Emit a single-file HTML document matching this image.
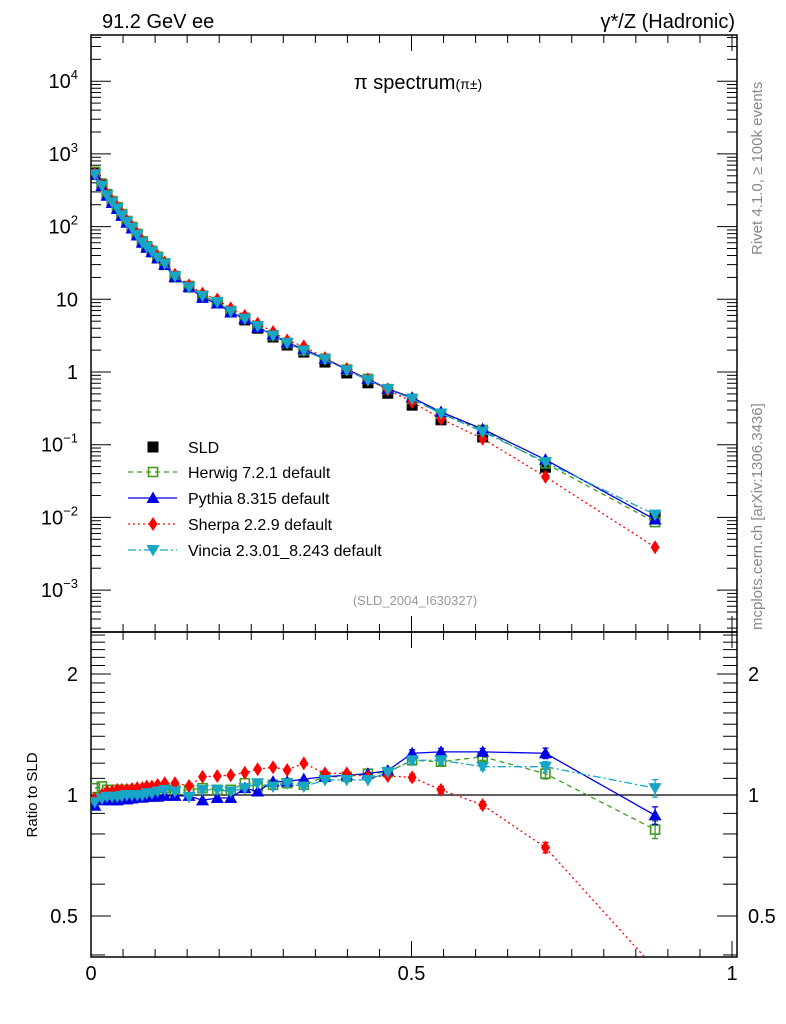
<!DOCTYPE html>
<html><head><meta charset="utf-8"><style>
body{margin:0;background:#fff;}
svg{display:block;font-family:"Liberation Sans",sans-serif;}
</style></head><body>
<svg id="chart" width="786" height="1024" viewBox="0 0 786 1024" xmlns="http://www.w3.org/2000/svg">
<g id="static">
<text x="102" y="28" font-size="20">91.2 GeV ee</text>
<text x="735" y="28" font-size="20" text-anchor="end">γ*/Z (Hadronic)</text>
<text x="418" y="89" font-size="20" text-anchor="middle">π spectrum<tspan font-size="14">(π±)</tspan></text>
<text font-size="15" fill="#888" transform="translate(762,255) rotate(-90)">Rivet 4.1.0, ≥ 100k events</text>
<text font-size="15" fill="#888" transform="translate(762,630) rotate(-90)">mcplots.cern.ch [arXiv:1306.3436]</text>
<text x="415" y="605" font-size="13" fill="#999" text-anchor="middle">(SLD_2004_I630327)</text>
<text font-size="15" text-anchor="middle" transform="translate(37,795) rotate(-90)">Ratio to SLD</text>
</g>
<g id="dyn"></g>
</svg>
<script>
const xVals=[0.006,0.017,0.025,0.033,0.041,0.048,0.056,0.064,0.072,0.080,0.087,0.095,0.104,0.115,0.131,0.153,0.174,0.197,0.218,0.240,0.260,0.284,0.306,0.332,0.365,0.399,0.432,0.463,0.501,0.546,0.611,0.709,0.880];
const sldVals=[546,373,272,218,180,144,116,96,77,61,52,45,37,30,20.3,14.8,10.8,8.9,6.7,5.2,4.0,3.03,2.35,1.88,1.37,0.97,0.71,0.51,0.35,0.22,0.128,0.049,0.0105];
const herwigRatio=[1.04,1.05,1.03,1.03,1.03,1.03,1.03,1.03,1.03,1.03,1.03,1.03,1.04,1.04,1.03,1.03,1.04,1.03,1.03,1.07,1.05,1.06,1.07,1.06,1.11,1.11,1.13,1.14,1.22,1.21,1.245,1.13,0.82];
const pythiaRatio=[0.94,0.97,0.975,0.97,0.97,0.975,0.975,0.98,0.985,0.985,0.99,0.99,0.99,0.995,0.995,0.995,0.97,0.983,0.983,1.04,1.02,1.08,1.08,1.095,1.11,1.12,1.13,1.15,1.27,1.28,1.28,1.27,0.89];
const sherpaRatio=[0.98,1.0,1.02,1.02,1.03,1.03,1.03,1.035,1.04,1.04,1.05,1.05,1.06,1.07,1.07,1.053,1.11,1.115,1.12,1.136,1.159,1.172,1.154,1.199,1.132,1.132,1.11,1.115,1.106,1.03,0.944,0.74,0.37];
const vinciaRatio=[0.96,0.98,0.99,0.99,0.99,0.995,1.0,1.0,1.0,1.0,1.01,1.01,1.02,1.03,1.02,0.99,1.03,1.03,1.02,1.04,1.07,1.05,1.07,1.05,1.09,1.09,1.09,1.14,1.22,1.22,1.176,1.176,1.04];
const mcRelErr=[0.01,0.01,0.01,0.01,0.01,0.01,0.01,0.01,0.01,0.01,0.01,0.01,0.01,0.01,0.01,0.01,0.01,0.01,0.01,0.01,0.01,0.01,0.01,0.01,0.01,0.01,0.01,0.01,0.02,0.02,0.02,0.03,0.05];
const mainTickExps=[-3,-2,-1,0,1,2,3,4];
const mainTickLabels=["10<tspan dy='-9' font-size='13'>−3</tspan>","10<tspan dy='-9' font-size='13'>−2</tspan>","10<tspan dy='-9' font-size='13'>−1</tspan>","1","10","10<tspan dy='-9' font-size='13'>2</tspan>","10<tspan dy='-9' font-size='13'>3</tspan>","10<tspan dy='-9' font-size='13'>4</tspan>"];
const ratioTicks=[0.5,1,2];
const ratioTickLabels=["0.5","1","2"];
const xTicks=[0,0.5,1];
const xTickLabels=["0","0.5","1"];

const L=91,R=737,T=35,MB=632,B=957;
const X=v=>91+641*v;
const Y=v=>372-72.7*Math.log10(v);
const RY=r=>795-121*Math.log2(r);
const NS="http://www.w3.org/2000/svg";
const g=document.getElementById('dyn');
function mk(tag,attrs,parent){const e=document.createElementNS(NS,tag);for(const k in attrs)e.setAttribute(k,attrs[k]);(parent||g).appendChild(e);return e;}

const defs=mk('defs',{});
const c1=mk('clipPath',{id:'cm'},defs);mk('rect',{x:L,y:T,width:R-L,height:MB-T},c1);
const c2=mk('clipPath',{id:'cr'},defs);mk('rect',{x:L,y:MB,width:R-L,height:B-MB},c2);

let f=mk('rect',{x:L,y:T,width:R-L,height:MB-T,fill:'none',stroke:'#000','stroke-width':1.5});

f=mk('rect',{x:L,y:MB,width:R-L,height:B-MB,fill:'none',stroke:'#000','stroke-width':1.5});


for(let i=0;i<=20;i++){const v=i*0.05,x=X(v),maj=(i%10===0);const len=maj?16:8;
 for(const [y0,dir] of [[B,-1],[MB,-1],[MB,1],[T,1]]){
  mk('line',{x1:x,x2:x,y1:y0,y2:y0+dir*len,stroke:'#000','stroke-width':1});}
}
xTicks.forEach((v,i)=>{const t=mk('text',{x:X(v),y:980,'font-size':20,'text-anchor':'middle'});t.textContent=xTickLabels[i];
});

for(let e=-4;e<=4;e++){for(let m=1;m<10;m++){const v=m*Math.pow(10,e),y=Y(v);if(y<T||y>MB)continue;const len=m===1?20:10;
 mk('line',{x1:L,x2:L+len,y1:y,y2:y,stroke:'#000'});mk('line',{x1:R,x2:R-len,y1:y,y2:y,stroke:'#000'});}}
mainTickExps.forEach((e,i)=>{const t=mk('text',{x:78,y:Y(Math.pow(10,e))+7,'font-size':20,'text-anchor':'end'});t.innerHTML=mainTickLabels[i];
});

for(const r of [0.4,0.5,0.6,0.7,0.8,0.9,1,1.1,1.2,1.3,1.4,1.5,1.6,1.7,1.8,1.9,2,2.1,2.2,2.3,2.4,2.5]){const y=RY(r);if(y<MB||y>B)continue;const len=(r===0.5||r===1||r===2)?20:14;
 mk('line',{x1:L,x2:L+len,y1:y,y2:y,stroke:'#000'});mk('line',{x1:R,x2:R-len,y1:y,y2:y,stroke:'#000'});}
ratioTicks.forEach((r,i)=>{let t=mk('text',{x:78,y:RY(r)+7,'font-size':20,'text-anchor':'end'});t.textContent=ratioTickLabels[i];

t=mk('text',{x:748,y:RY(r)+7,'font-size':20,fill:'#000'});t.textContent=ratioTickLabels[i];
});
mk('line',{x1:L,x2:R,y1:RY(1),y2:RY(1),stroke:'#000','stroke-width':1.2});

function marker(type,x,y,col,parent){
 const s=5.5;
 if(type==='sq')return mk('rect',{x:x-s,y:y-s,width:2*s,height:2*s,fill:'#000'},parent);
 if(type==='osq')return mk('rect',{x:x-s+1,y:y-s+1,width:2*s-2,height:2*s-2,fill:'none',stroke:col,'stroke-width':1.6},parent);
 if(type==='tu')return mk('polygon',{points:`${x},${y-6.5} ${x-6.5},${y+5} ${x+6.5},${y+5}`,fill:col},parent);
 if(type==='td')return mk('polygon',{points:`${x},${y+6.5} ${x-6.5},${y-5} ${x+6.5},${y-5}`,fill:col},parent);
 if(type==='dia')return mk('polygon',{points:`${x},${y-7} ${x-4.5},${y} ${x},${y+7} ${x+4.5},${y}`,fill:col},parent);
}
const series=[
 {name:'herwig',ratio:herwigRatio,col:'#3f9a1c',dash:'5,4',m:'osq',label:'Herwig 7.2.1 default'},
 {name:'pythia',ratio:pythiaRatio,col:'#0000e6',dash:'',m:'tu',label:'Pythia 8.315 default'},
 {name:'sherpa',ratio:sherpaRatio,col:'#ff0000',dash:'2,3',m:'dia',label:'Sherpa 2.2.9 default'},
 {name:'vincia',ratio:vinciaRatio,col:'#18a6c6',dash:'8,3,2,3',m:'td',label:'Vincia 2.3.01_8.243 default'}];

const gm=mk('g',{'clip-path':'url(#cm)'});
const gr=mk('g',{'clip-path':'url(#cr)'});
xVals.forEach((x,i)=>{const m=marker('sq',X(x),Y(sldVals[i]),'#000',gm);
 });
series.forEach(s=>{
 const pts=xVals.map((x,i)=>X(x)+','+Y(sldVals[i]*s.ratio[i])).join(' ');
 let pl=mk('polyline',{points:pts,fill:'none',stroke:s.col,'stroke-width':1.3,'stroke-dasharray':s.dash},gm);
 
 xVals.forEach((x,i)=>{const m=marker(s.m,X(x),Y(sldVals[i]*s.ratio[i]),s.col,gm);
  });
 const rpts=xVals.map((x,i)=>X(x)+','+RY(s.ratio[i])).join(' ');
 pl=mk('polyline',{points:rpts,fill:'none',stroke:s.col,'stroke-width':1.3,'stroke-dasharray':s.dash},gr);
 
 xVals.forEach((x,i)=>{const r=s.ratio[i],e=mcRelErr[i]*r,xx=X(x);
  if(mcRelErr[i]>0.015){mk('line',{x1:xx,x2:xx,y1:RY(r+e),y2:RY(r-e),stroke:s.col,'stroke-width':1.3},gr);
   mk('line',{x1:xx-3,x2:xx+3,y1:RY(r+e),y2:RY(r+e),stroke:s.col,'stroke-width':1.3},gr);
   mk('line',{x1:xx-3,x2:xx+3,y1:RY(r-e),y2:RY(r-e),stroke:s.col,'stroke-width':1.3},gr);}
  const m=marker(s.m,xx,RY(r),s.col,gr);
  });
});

const lg=mk('g',{});

let ly=447;
let e=marker('sq',153,ly,'#000',lg);

let t=mk('text',{x:188,y:ly+6,'font-size':16},lg);t.textContent='SLD';

series.forEach((s,i)=>{const y=472+i*26;
 mk('line',{x1:128,x2:177,y1:y,y2:y,stroke:s.col,'stroke-width':1.3,'stroke-dasharray':s.dash},lg);
 const m=marker(s.m,153,y,s.col,lg);
 
 const tt=mk('text',{x:188,y:y+6,'font-size':16},lg);tt.textContent=s.label;
 
});
</script>
</body></html>
